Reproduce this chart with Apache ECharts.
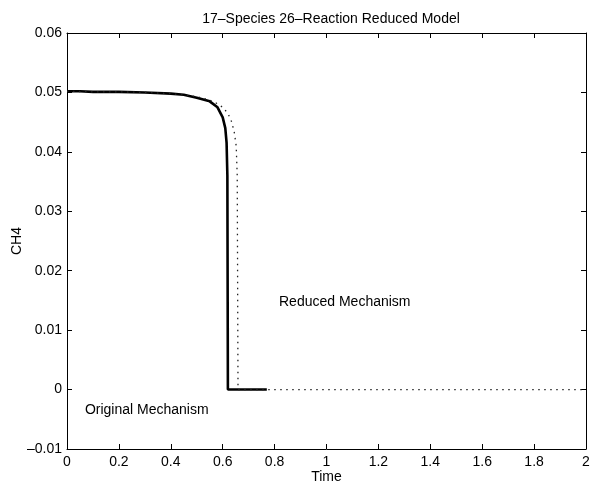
<!DOCTYPE html>
<html>
<head>
<meta charset="utf-8">
<script src="https://cdn.jsdelivr.net/npm/echarts@6/dist/echarts.min.js"></script>
<style>
html, body { margin: 0; padding: 0; background: #fff; }
#box1 { width: 594px; height: 483px; }
</style>
</head>
<body>
<div id="box1"></div>
<script>
// original mechanism (solid)
var origTime = [0, 0.05, 0.1, 0.2, 0.3, 0.4, 0.45, 0.5, 0.55, 0.58, 0.6, 0.61, 0.615, 0.618, 0.62, 0.7, 0.77];
var origCH4 = [0.0502, 0.0502, 0.0501, 0.0501, 0.0500, 0.0498, 0.0496, 0.0491, 0.0485, 0.0475, 0.0458, 0.0440, 0.0415, 0.0360, 0, 0, 0];
// reduced mechanism (dotted)
var redTime = [0, 0.1, 0.2, 0.3, 0.4, 0.5, 0.55, 0.58, 0.6, 0.62, 0.635, 0.645, 0.652, 0.656, 0.659, 0.7, 1.0, 1.5, 2.0];
var redCH4 = [0.0502, 0.0501, 0.0501, 0.0500, 0.0498, 0.0493, 0.0487, 0.0481, 0.0475, 0.0465, 0.0450, 0.0432, 0.0410, 0.0360, 0, 0, 0, 0, 0];

var xTicks = [0, 0.2, 0.4, 0.6, 0.8, 1, 1.2, 1.4, 1.6, 1.8, 2];
var yTicks = [-0.01, 0, 0.01, 0.02, 0.03, 0.04, 0.05, 0.06];

var notes = [
    { text: 'Original Mechanism', t: 0.069, v: -0.0034 },
    { text: 'Reduced Mechanism', t: 0.817, v: 0.0147 }
];

function pairs(xs, ys) {
    var out = [];
    for (var i = 0; i < xs.length; i++) out.push([xs[i], ys[i]]);
    return out;
}

var font = 'Liberation Sans, Arial, Helvetica, sans-serif';
var myChart = echarts.init(document.getElementById('box1'));

var axisBase = {
    axisLine: { show: true, onZero: false, lineStyle: { color: '#000', width: 1 } },
    axisTick: { show: true, inside: true, length: 5, lineStyle: { color: '#000' } },
    splitLine: { show: false }
};

option = {
    animation: false,
    backgroundColor: '#fff',
    title: {
        text: '17\u2013Species 26\u2013Reaction Reduced Model',
        left: 326,
        textAlign: 'center',
        top: 7,
        textStyle: { fontFamily: font, fontSize: 14, fontWeight: 'normal', color: '#000' }
    },
    grid: { left: 67, right: 8, top: 33, bottom: 34, containLabel: false, outerBoundsMode: 'none' },
    xAxis: [
        Object.assign({}, axisBase, {
            type: 'value', position: 'bottom',
            min: xTicks[0], max: xTicks[xTicks.length - 1], interval: 0.2,
            name: 'Time', nameLocation: 'middle', nameGap: 21, nameMoveOverlap: false,
            nameTextStyle: { fontFamily: font, fontSize: 14, color: '#000' },
            axisLabel: { margin: 6, fontFamily: font, fontSize: 14, color: '#000',
                formatter: function (v) { return String(Math.round(v * 10) / 10); } }
        }),
        Object.assign({}, axisBase, {
            type: 'value', position: 'top',
            min: xTicks[0], max: xTicks[xTicks.length - 1], interval: 0.2,
            axisLabel: { show: false }
        })
    ],
    yAxis: [
        Object.assign({}, axisBase, {
            type: 'value', position: 'left',
            min: yTicks[0], max: yTicks[yTicks.length - 1], interval: 0.01,
            name: 'CH4', nameLocation: 'middle', nameGap: 43, nameMoveOverlap: false,
            nameTextStyle: { fontFamily: font, fontSize: 14, color: '#000' },
            axisLabel: { margin: 5, fontFamily: font, fontSize: 14, color: '#000',
                formatter: function (v) {
                    var r = Math.round(v * 100) / 100;
                    if (r === 0) return '0';
                    return (r < 0 ? '\u2013' : '') + Math.abs(r).toFixed(2);
                } }
        }),
        Object.assign({}, axisBase, {
            type: 'value', position: 'right',
            min: yTicks[0], max: yTicks[yTicks.length - 1], interval: 0.01,
            axisLabel: { show: false }
        })
    ],
    series: [
        {
            name: 'Original Mechanism',
            type: 'line',
            showSymbol: false,
            data: pairs(origTime, origCH4),
            lineStyle: { color: '#000', width: 2.6 },
            z: 2
        },
        {
            name: 'Reduced Mechanism',
            type: 'line',
            showSymbol: false,
            data: pairs(redTime, redCH4),
            lineStyle: { color: '#222', width: 1.3, type: [1.5, 4.5] },
            z: 3
        }
    ]
};
myChart.setOption(option);

// text notes placed by data coordinates
var graphics = notes.map(function (n) {
    var p = myChart.convertToPixel({ gridIndex: 0 }, [n.t, n.v]);
    return {
        type: 'text',
        x: p[0], y: p[1],
        style: { text: n.text, fill: '#000', font: '14px ' + font, textVerticalAlign: 'middle', verticalAlign: 'middle' }
    };
});
myChart.setOption({ graphic: graphics });
</script>
</body>
</html>
